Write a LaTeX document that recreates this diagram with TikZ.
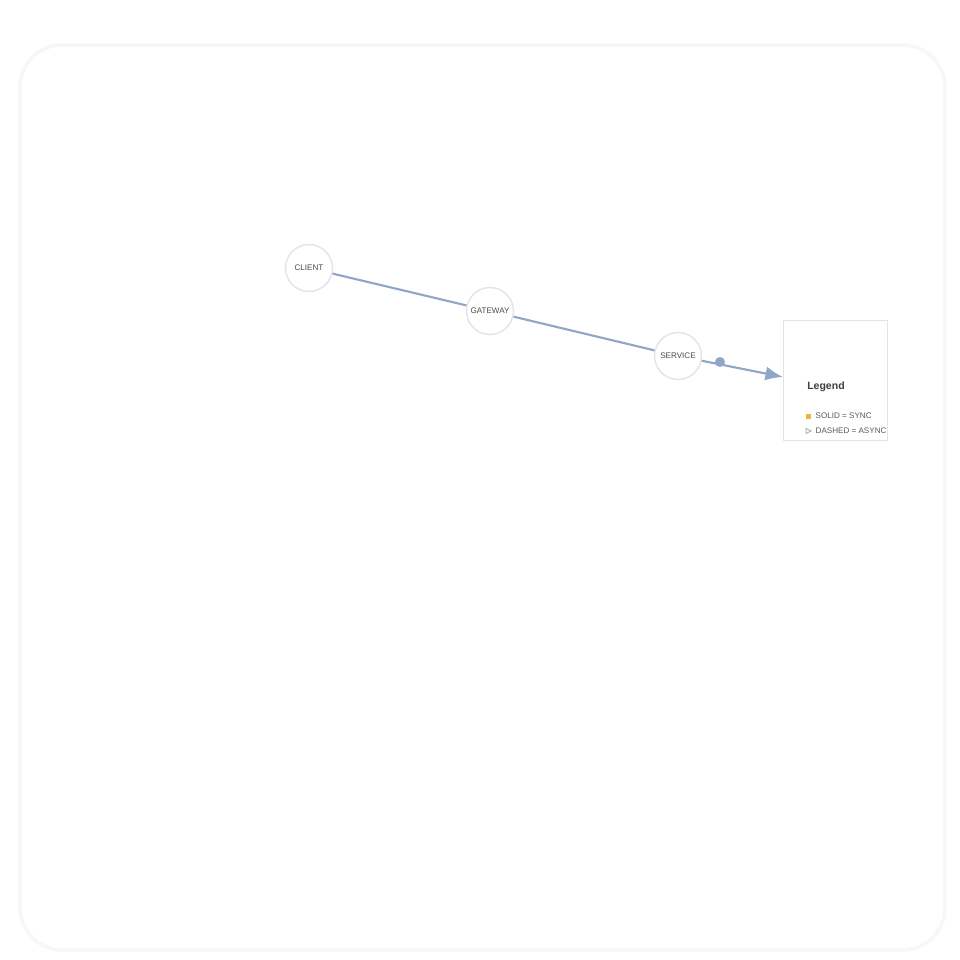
\documentclass[tikz,border=0pt]{standalone}
\usepackage{fontspec}
\setmainfont{Liberation Sans}
\usetikzlibrary{arrows.meta}
\definecolor{edgeblue}{HTML}{8FA6C6}
\definecolor{ringgray}{HTML}{E2E4E7}
\definecolor{framegray}{HTML}{F5F8FB}
\definecolor{markorange}{HTML}{F0B43C}
\tikzset{
  station/.style={circle,draw=ringgray,fill=white,line width=.4pt,minimum size=.47cm,inner sep=0pt,font=\fontsize{2.3}{3}\selectfont,text=black!70},
  flow/.style={draw=edgeblue,line width=.6pt},
  legtext/.style={font=\fontsize{2.3}{3}\selectfont,text=black!65,anchor=west,inner sep=0pt},
}
\begin{document}
\begin{tikzpicture}
\useasboundingbox (0,0) rectangle (9.6,-9.6);
\fill[white] (0,0) rectangle (9.6,-9.6);
\draw[framegray,line width=1pt,rounded corners=12pt] (.2,-.45) rectangle (9.45,-9.5);
\node[station] (client) at (3.09,-2.68) {CLIENT};
\node[station] (gateway) at (4.90,-3.11) {GATEWAY};
\node[station] (service) at (6.78,-3.56) {SERVICE};
\node[draw=ringgray,fill=white,line width=.3pt,minimum width=1.04cm,minimum height=1.2cm,anchor=north west] (legend) at (7.83,-3.20) {};
\coordinate (tip) at (7.83,-3.77);
\draw[flow] (client) -- (gateway);
\draw[flow] (gateway) -- (service);
\draw[flow,-{Latex[length=5pt,width=4pt]}] (service) -- (tip);
\fill[edgeblue] (7.20,-3.62) circle (.05);
\node[font=\fontsize{3}{4}\selectfont\bfseries,text=black!75] (legtitle) at (8.26,-3.87) {Legend};
\node[legtext] (solid) at (8.15,-4.16) {SOLID = SYNC};
\node[legtext] (dashed) at (8.15,-4.31) {DASHED = ASYNC};
\fill[markorange] (8.06,-4.185) rectangle ++(.05,.05);
\draw[black!35,line width=.2pt] (8.06,-4.335) -- ++(0,.05) -- ++(.05,-.025) -- cycle;
\end{tikzpicture}
\end{document}
